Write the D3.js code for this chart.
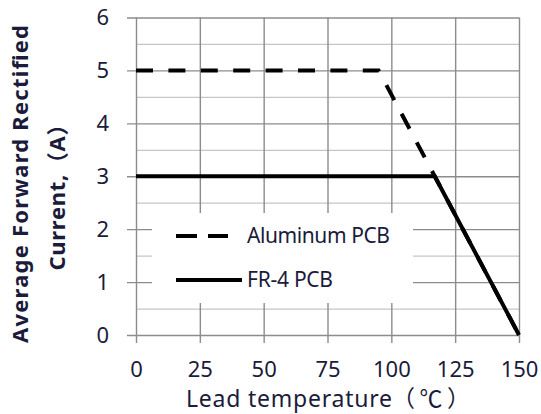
<!DOCTYPE html>
<html>
<head>
<meta charset="utf-8">
<script src="https://cdn.jsdelivr.net/npm/d3@7"></script>
<style>
  body { margin: 0; background: #fff; }
  text { font-family: "Noto Sans", "Noto Sans CJK SC", sans-serif; fill: #1b1b3b; }
</style>
</head>
<body>
<div id="chart"></div>
<script>
  // data
  let tempTicks = [0, 25, 50, 75, 100, 125, 150];
  let currentTicks = [0, 1, 2, 3, 4, 5, 6];
  let currentMinor = [0.5, 1.5, 2.5, 3.5, 4.5, 5.5];
  let aluminumTemp = [0, 95, 150], aluminumCurrent = [5, 5, 0];
  let fr4Temp = [0, 117, 150], fr4Current = [3, 3, 0];
  let seriesNames = ['Aluminum PCB', 'FR-4 PCB'];

  let W = 541, H = 414;
  let plotL = 136, plotR = 519, plotT = 17.5, plotB = 335;

  let svg = d3.select('#chart').append('svg').attr('width', W).attr('height', H);

  let x = d3.scaleLinear().domain([0, 150]).range([plotL, plotR]);
  let y = d3.scaleLinear().domain([0, 6]).range([plotB, plotT]);

  // минорная сетка
  let minor = svg.append('g').attr('transform', `translate(${plotL},0)`)
    .call(d3.axisLeft(y).tickValues(currentMinor).tickSize(-(plotR - plotL)).tickFormat(''));
  minor.select('.domain').remove();
  minor.selectAll('line').attr('stroke', '#c6c6c6').attr('stroke-width', 1.3);

  // основная горизонтальная сетка + подписи
  let yAxis = svg.append('g').attr('transform', `translate(${plotL - 9},0)`)
    .call(d3.axisLeft(y).tickValues(currentTicks).tickFormat(d3.format('d'))
      .tickSize(-(plotR - plotL + 9)).tickPadding(18));
  yAxis.select('.domain').remove();
  yAxis.selectAll('line').attr('stroke', '#8c8c8c').attr('stroke-width', 1.4);
  yAxis.selectAll('text').style('font-size', '22px').attr('fill', '#1b1b3b');

  // вертикальная сетка + подписи
  let xAxis = svg.append('g').attr('transform', `translate(0,${plotB + 8})`)
    .call(d3.axisBottom(x).tickValues(tempTicks).tickFormat(d3.format('d'))
      .tickSize(-(plotB + 8 - plotT)).tickPadding(18));
  xAxis.select('.domain').remove();
  xAxis.selectAll('line').attr('stroke', '#8c8c8c').attr('stroke-width', 1.4);
  xAxis.selectAll('text').style('font-size', '22px').attr('fill', '#1b1b3b');

  // легенда (белая подложка поверх сетки)
  svg.append('rect').attr('x', 152).attr('y', 213).attr('width', 261).attr('height', 90)
     .attr('fill', '#fff');

  let line = d3.line().x(d => x(d[0])).y(d => y(d[1]));

  svg.append('path').datum(d3.zip(aluminumTemp, aluminumCurrent))
     .attr('d', line).attr('fill', 'none').attr('stroke', '#000')
     .attr('stroke-width', 4).attr('stroke-dasharray', '17,15.4');

  svg.append('path').datum(d3.zip(fr4Temp, fr4Current))
     .attr('d', line).attr('fill', 'none').attr('stroke', '#000')
     .attr('stroke-width', 4);

  let legend = svg.append('g');
  legend.append('line').attr('x1', 176).attr('x2', 228).attr('y1', 236).attr('y2', 236)
        .attr('stroke', '#000').attr('stroke-width', 4).attr('stroke-dasharray', '21,11');
  legend.append('line').attr('x1', 176).attr('x2', 242).attr('y1', 280).attr('y2', 280)
        .attr('stroke', '#000').attr('stroke-width', 4);
  legend.append('text').attr('x', 247).attr('y', 243).style('font-size', '21px')
        .attr('textLength', 143).text(seriesNames[0]);
  legend.append('text').attr('x', 247).attr('y', 287).style('font-size', '21px')
        .attr('textLength', 86).text(seriesNames[1]);

  // подписи осей
  let xTitle = svg.append('text').attr('y', 407).style('font-size', '23px');
  xTitle.append('tspan').attr('x', 186).attr('textLength', 206).text('Lead temperature');
  xTitle.append('tspan').attr('x', 392).style('font-family', '"Noto Sans CJK SC"')
        .attr('textLength', 78).text('（℃）');

  svg.append('text').attr('transform', 'translate(28,184) rotate(-90)')
     .attr('text-anchor', 'middle').style('font-size', '22px').style('font-weight', 'bold')
     .attr('textLength', 318).text('Average Forward Rectified');
  svg.append('text').attr('transform', 'translate(65,192) rotate(-90)')
     .attr('text-anchor', 'middle').style('font-size', '22px').style('font-weight', 'bold')
     .attr('textLength', 157).text('Current,（A）');
</script>
</body>
</html>
